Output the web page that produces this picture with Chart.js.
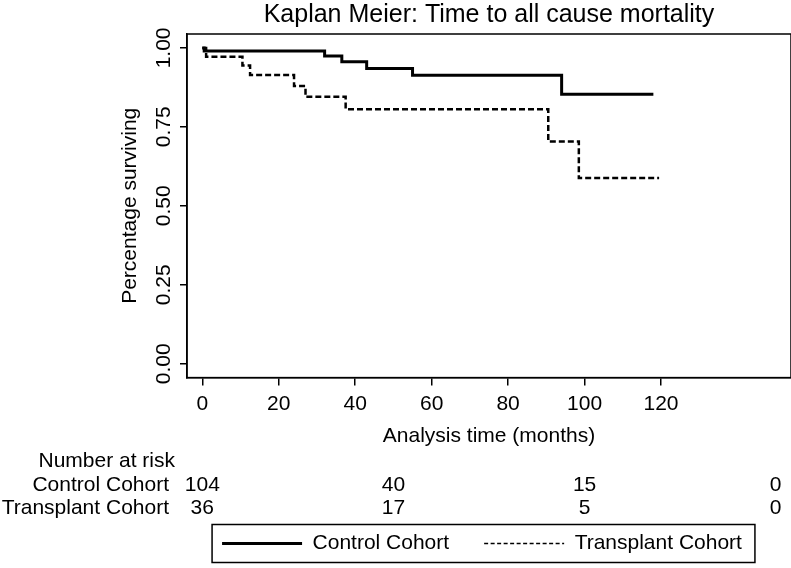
<!DOCTYPE html>
<html>
<head>
<meta charset="utf-8">
<script src="https://cdn.jsdelivr.net/npm/chart.js@4.4.1/dist/chart.umd.min.js"></script>
<style>
  html, body { margin: 0; padding: 0; background: #fff; }
  #wrap { width: 791px; height: 568px; position: relative; }
</style>
</head>
<body>
<div id="wrap"><canvas id="c"></canvas></div>
<script>
// ---- data ----
const controlTimes = [0, 0.5, 32, 36.5, 43, 55, 94, 118];
const controlSurv  = [1.0, 0.990, 0.974, 0.956, 0.935, 0.913, 0.853, 0.853];
const transplantTimes = [0, 1, 10.5, 12.5, 24, 27, 37.5, 90.5, 98.5, 119.5];
const transplantSurv  = [1.0, 0.972, 0.944, 0.914, 0.879, 0.845, 0.806, 0.704, 0.588, 0.588];
const xTickValues = [0, 20, 40, 60, 80, 100, 120];
const yTickValues = [0, 0.25, 0.5, 0.75, 1.0];
const riskTimes = [0, 50, 100, 150];
const controlAtRisk = [104, 40, 15, 0];
const transplantAtRisk = [36, 17, 5, 0];
const seriesNames = ['Control Cohort', 'Transplant Cohort'];

const FONT = "'Liberation Sans', Arial, Helvetica, sans-serif";
Chart.defaults.color = '#000';
Chart.defaults.font.family = FONT;
Chart.defaults.font.size = 21;

const boxPlugin = {
  id: 'plotBox',
  afterDraw(chart) {
    const {ctx, chartArea: a} = chart;
    ctx.save();
    ctx.strokeStyle = '#000';
    ctx.lineWidth = 1.5;
    ctx.strokeRect(a.left, a.top, a.right - a.left, a.bottom - a.top);
    ctx.restore();
  }
};

const riskPlugin = {
  id: 'riskTable',
  afterDraw(chart) {
    const {ctx} = chart;
    const xs = chart.scales.x;
    const base = xs.top;
    const rowY = [base + 84, base + 108, base + 131];
    ctx.save();
    ctx.fillStyle = '#000';
    ctx.font = '21px ' + FONT;
    ctx.textBaseline = 'middle';
    ctx.textAlign = 'right';
    ctx.fillText('Number at risk', 175, rowY[0]);
    ctx.fillText(seriesNames[0], 169, rowY[1]);
    ctx.fillText(seriesNames[1], 169, rowY[2]);
    ctx.textAlign = 'center';
    riskTimes.forEach((t, i) => {
      const px = xs.getPixelForValue(t);
      ctx.fillText(String(controlAtRisk[i]), px, rowY[1]);
      ctx.fillText(String(transplantAtRisk[i]), px, rowY[2]);
    });
    ctx.restore();
  }
};

const LEGEND_SHIFT = 7;
const legendBoxPlugin = {
  id: 'legendBox',
  afterUpdate(chart) {
    const lg = chart.legend;
    if (!lg) return;
    lg.left -= LEGEND_SHIFT;
    lg.right -= LEGEND_SHIFT;
    (lg.legendHitBoxes || []).forEach(h => { h.left -= LEGEND_SHIFT; });
  },
  afterDraw(chart) {
    const lg = chart.legend;
    if (!lg || !lg.legendHitBoxes || !lg.legendHitBoxes.length) return;
    const hb = lg.legendHitBoxes;
    const l = Math.min(...hb.map(h => h.left)) - 10;
    const r = Math.max(...hb.map(h => h.left + h.width)) + 13;
    const cy = hb[0].top + hb[0].height / 2;
    const {ctx} = chart;
    ctx.save();
    ctx.strokeStyle = '#000';
    ctx.lineWidth = 1.5;
    ctx.strokeRect(l, cy - 19, r - l, 38);
    ctx.restore();
  }
};

const toPoints = (xs, ys) => xs.map((x, i) => ({x: x, y: ys[i]}));

new Chart(document.getElementById('c'), {
  type: 'line',
  data: {
    datasets: [
      {
        label: seriesNames[0],
        data: toPoints(controlTimes, controlSurv),
        borderColor: '#000',
        backgroundColor: '#000',
        borderWidth: 3,
        stepped: 'before',
        pointRadius: 0,
        fill: false
      },
      {
        label: seriesNames[1],
        data: toPoints(transplantTimes, transplantSurv),
        borderColor: '#000',
        backgroundColor: '#000',
        borderWidth: 2.5,
        borderDash: [6, 3],
        stepped: 'before',
        pointRadius: 0,
        fill: false
      }
    ]
  },
  options: {
    responsive: true,
    maintainAspectRatio: false,
    animation: false,
    devicePixelRatio: 1,
    layout: { padding: { left: 118, right: 0, top: 0, bottom: 4 } },
    plugins: {
      title: {
        display: true,
        text: 'Kaplan Meier: Time to all cause mortality',
        fullSize: false,
        font: { size: 25, weight: 'normal' },
        padding: { top: 0, bottom: 4 },
        color: '#000'
      },
      legend: {
        display: true,
        position: 'bottom',
        fullSize: false,
        labels: {
          usePointStyle: true,
          pointStyle: 'line',
          pointStyleWidth: 80,
          boxWidth: 80,
          padding: 35,
          font: { size: 21 },
          color: '#000',
          generateLabels(chart) {
            const items = Chart.defaults.plugins.legend.labels.generateLabels(chart);
            items.forEach((it, i) => {
              it.pointStyle = 'line';
              it.strokeStyle = '#000';
              it.fillStyle = '#000';
              it.lineWidth = i === 0 ? 3 : 1.3;
              it.lineDash = i === 0 ? [] : [4, 2.5];
            });
            return items;
          }
        }
      },
      tooltip: { enabled: false }
    },
    scales: {
      x: {
        type: 'linear',
        min: -4,
        max: 154,
        afterBuildTicks(scale) { scale.ticks = xTickValues.map(v => ({value: v})); },
        ticks: { autoSkip: false, maxRotation: 0, minRotation: 0, padding: 6, font: { size: 21 }, color: '#000',
                 callback: v => String(v) },
        grid: { drawOnChartArea: false, drawTicks: true, tickLength: 8, color: '#000', lineWidth: 1.5 },
        border: { display: true, color: '#000', width: 1.5 },
        title: { display: true, text: 'Analysis time (months)', font: { size: 21 }, color: '#000',
                 padding: { top: 1, bottom: 49 } }
      },
      y: {
        type: 'linear',
        min: -0.044,
        max: 1.044,
        afterBuildTicks(scale) { scale.ticks = yTickValues.map(v => ({value: v})); },
        ticks: { autoSkip: false, minRotation: 90, maxRotation: 90, crossAlign: 'center', padding: -5,
                 font: { size: 21 }, color: '#000', callback: v => Number(v).toFixed(2) },
        grid: { drawOnChartArea: false, drawTicks: true, tickLength: 7, color: '#000', lineWidth: 1.5 },
        border: { display: true, color: '#000', width: 1.5 },
        title: { display: true, text: 'Percentage surviving', font: { size: 21 }, color: '#000',
                 padding: { top: 0, bottom: 21.6 } }
      }
    }
  },
  plugins: [boxPlugin, riskPlugin, legendBoxPlugin]
});
</script>
</body>
</html>
